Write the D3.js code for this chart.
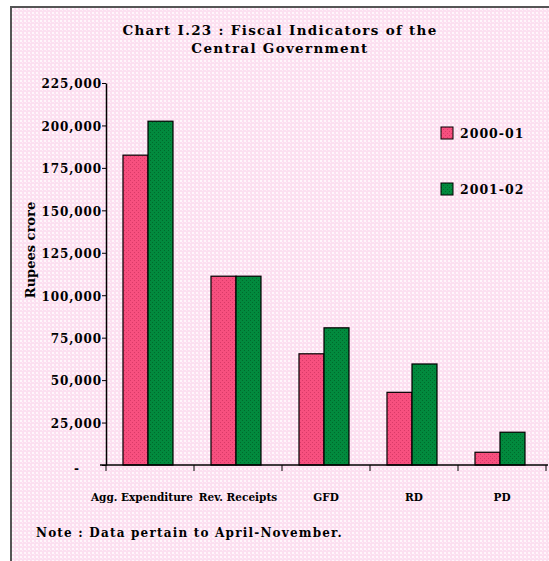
<!DOCTYPE html>
<html>
<head>
<meta charset="utf-8">
<script src="https://cdn.jsdelivr.net/npm/d3@7"></script>
<style>
  body { margin: 0; background: #fff; }
  svg text { font-family: "DejaVu Serif", "Liberation Serif", serif; font-weight: bold; fill: #000; }
</style>
</head>
<body>
<svg id="chart" width="549" height="561"></svg>
<script>
// data (Rupees crore, April-November)
var categories = ["Agg. Expenditure", "Rev. Receipts", "GFD", "RD", "PD"];
var seriesNames = ["2000-01", "2001-02"];
var values2000 = [182500, 111200, 65500, 42800, 7500];
var values2001 = [202500, 111200, 80800, 59500, 19300];
var yTicks = [0, 25000, 50000, 75000, 100000, 125000, 150000, 175000, 200000, 225000];

var svg = d3.select("#chart");
var defs = svg.append("defs");

// background dotted pattern
var bg = defs.append("pattern").attr("id", "bgpat")
  .attr("width", 4).attr("height", 4).attr("patternUnits", "userSpaceOnUse");
bg.append("rect").attr("width", 4).attr("height", 4).attr("fill", "#fcdff0");
bg.append("rect").attr("x", 0).attr("y", 0).attr("width", 2).attr("height", 2).attr("fill", "#fff6fb");
bg.append("rect").attr("x", 2).attr("y", 2).attr("width", 1).attr("height", 1).attr("fill", "#fdeef7");

function barPattern(id, base, dot) {
  var p = defs.append("pattern").attr("id", id)
    .attr("width", 4).attr("height", 4).attr("patternUnits", "userSpaceOnUse");
  p.append("rect").attr("width", 4).attr("height", 4).attr("fill", base);
  p.append("rect").attr("x", 0).attr("y", 0).attr("width", 1).attr("height", 1).attr("fill", dot);
  p.append("rect").attr("x", 2).attr("y", 2).attr("width", 1).attr("height", 1).attr("fill", dot);
}
barPattern("pinkpat", "#f7507f", "#d93a68");
barPattern("greenpat", "#028a3e", "#006a2c");
var fills = ["url(#pinkpat)", "url(#greenpat)"];

// frame
svg.append("rect").attr("x", 11).attr("y", 7).attr("width", 549).attr("height", 560)
  .attr("fill", "url(#bgpat)").attr("stroke", "#555").attr("stroke-width", 2);

// title
svg.append("text").attr("x", 280).attr("y", 35).attr("text-anchor", "middle")
  .style("font-size", "13.5px").style("letter-spacing", "1.3px")
  .text("Chart I.23 : Fiscal Indicators of the");
svg.append("text").attr("x", 280).attr("y", 53).attr("text-anchor", "middle")
  .style("font-size", "13.5px").style("letter-spacing", "1.3px")
  .text("Central Government");

// scales
var plotLeft = 106, plotRight = 546, plotTop = 83, plotBase = 465;
var x = d3.scaleBand().domain(categories).range([plotLeft, plotRight]);
var bw = x.bandwidth();
var x1 = d3.scaleBand().domain(seriesNames).range([bw / 2 - 27, bw / 2 + 23]);
var y = d3.scaleLinear().domain([0, 225000]).range([plotBase, plotTop]);

// y axis
var yAxis = d3.axisLeft(y).tickValues(yTicks).tickSize(4).tickSizeOuter(0)
  .tickFormat(function (d) { return d === 0 ? "-" : d3.format(",")(d); });
var gy = svg.append("g").attr("transform", "translate(" + plotLeft + ",0)").call(yAxis);
gy.select(".domain").attr("stroke", "#000").attr("stroke-width", 1.5);
gy.selectAll(".tick line").attr("stroke", "#000");
gy.selectAll(".tick text").attr("x", -4).style("font-size", "12px")
  .style("font-family", "DejaVu Serif, serif").style("font-weight", "bold")
  .style("letter-spacing", "0.9px").attr("dy", "0.4em");
gy.selectAll(".tick").filter(function (d) { return d === 0; }).select("text")
  .attr("x", -26).attr("dy", "0.6em");

// bars
var data = categories.map(function (c, i) {
  return { cat: c, vals: [values2000[i], values2001[i]] };
});
var groups = svg.append("g").selectAll("g").data(data).enter().append("g")
  .attr("transform", function (d) { return "translate(" + x(d.cat) + ",0)"; });
groups.selectAll("rect").data(function (d) {
  return d.vals.map(function (v, j) { return { s: seriesNames[j], v: v, j: j }; });
}).enter().append("rect")
  .attr("x", function (d) { return x1(d.s); })
  .attr("width", x1.bandwidth())
  .attr("y", function (d) { return y(d.v); })
  .attr("height", function (d) { return plotBase - y(d.v); })
  .attr("fill", function (d) { return fills[d.j]; })
  .attr("stroke", "#000").attr("stroke-width", 1.2);

// x axis: ticks at band boundaries
var gx = svg.append("g");
gx.append("line").attr("x1", plotLeft - 6).attr("x2", plotRight + 2).attr("y1", plotBase).attr("y2", plotBase)
  .attr("stroke", "#000").attr("stroke-width", 1.5);
var bounds = categories.map(function (c) { return x(c); }).concat([plotRight]);
gx.selectAll("line.tk").data(bounds).enter().append("line").attr("class", "tk")
  .attr("x1", function (d) { return d; }).attr("x2", function (d) { return d; })
  .attr("y1", plotBase).attr("y2", plotBase + 6).attr("stroke", "#000");
gx.selectAll("text").data(categories).enter().append("text")
  .attr("x", function (d, i) { return x(d) + bw / 2 + (i === 0 ? -8 : 0); })
  .attr("y", 501).attr("text-anchor", "middle")
  .style("font-size", "10.5px").text(function (d) { return d; });

// y label
svg.append("text").attr("transform", "translate(35,250) rotate(-90)")
  .attr("text-anchor", "middle").style("font-size", "13px").text("Rupees crore");

// legend
var legend = svg.append("g").selectAll("g").data(seriesNames).enter().append("g")
  .attr("transform", function (d, i) { return "translate(441," + (127 + i * 56) + ")"; });
legend.append("rect").attr("width", 12).attr("height", 12)
  .attr("fill", function (d, i) { return fills[i]; }).attr("stroke", "#000");
legend.append("text").attr("x", 19).attr("y", 11).style("font-size", "12.5px")
  .style("letter-spacing", "1px").text(function (d) { return d; });

// note
svg.append("text").attr("x", 36).attr("y", 537).style("font-size", "12px")
  .style("letter-spacing", "1.2px").text("Note : Data pertain to April-November.");
</script>
</body>
</html>
